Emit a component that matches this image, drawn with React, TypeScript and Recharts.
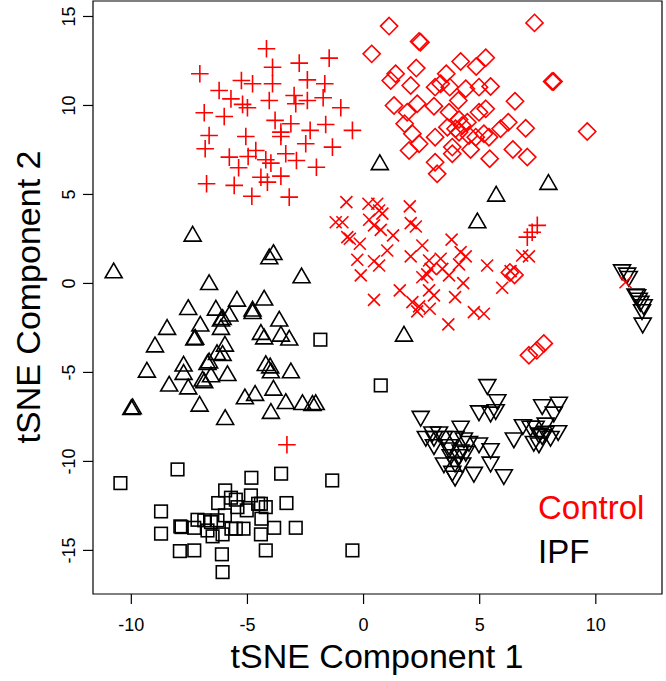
import { ScatterChart, Scatter, XAxis, YAxis, ReferenceArea } from 'recharts';

type Pt = [number, number];

// axis setup
const X_TICKS = [-10, -5, 0, 5, 10];
const Y_TICKS = [-15, -10, -5, 0, 5, 10, 15];
const X_DOMAIN: [number, number] = [-11.65, 12.85];
const Y_DOMAIN: [number, number] = [-17.45, 15.87];

const X_TITLE = 'tSNE Component 1';
const Y_TITLE = 'tSNE Component 2';
const LEGEND_LABELS = ['Control', 'IPF'];
const LEGEND_COLORS = ['#ff0000', '#000000'];

// Control groups (red)
const controlPlus: Pt[] = [
  [-4.18, 13.19], [-2.77, 12.38], [-1.48, 12.66], [-7.05, 11.78], [-5.26, 11.4], [-3.92, 12.15],
  [-2.42, 11.44], [-1.67, 11.22], [-4.78, 11.22], [-3.92, 11.22], [-6.22, 10.84], [-5.71, 10.37],
  [-5.21, 10.06], [-5.0, 9.87], [-4.06, 10.28], [-2.99, 10.56], [-2.92, 10.1], [-2.42, 10.28],
  [-1.74, 10.43], [-0.98, 9.87], [-6.86, 9.59], [-6.0, 9.38], [-3.81, 9.16], [-3.13, 8.97],
  [-3.56, 8.5], [-3.56, 8.26], [-2.3, 8.6], [-1.63, 8.93], [-0.48, 8.6], [-6.65, 8.31],
  [-5.07, 8.26], [-2.49, 7.85], [-1.34, 7.66], [-6.82, 7.57], [-5.78, 7.1], [-4.97, 7.13],
  [-4.64, 7.47], [-3.35, 7.29], [-2.89, 6.91], [-4.21, 6.95], [-3.99, 6.76], [-5.38, 6.5],
  [-2.03, 6.53], [-4.42, 5.97], [-4.14, 5.69], [-3.56, 6.03], [-6.76, 5.6], [-5.57, 5.51],
  [-4.81, 4.9], [-3.2, 4.85], [-3.3, -9.06], [7.05, 2.6], [7.26, 2.88], [7.48, 3.26],
];

const controlDiamond: Pt[] = [
  [1.1, 14.46], [2.39, 13.6], [2.45, 13.55], [7.36, 14.64], [0.35, 12.9], [1.38, 11.78],
  [1.17, 11.4], [2.27, 12.1], [4.18, 12.47], [5.26, 12.68], [4.85, 12.19], [3.56, 11.78],
  [2.03, 11.12], [3.08, 11.03], [3.32, 11.22], [3.71, 11.03], [4.4, 10.94], [4.97, 11.03],
  [5.47, 11.07], [8.12, 11.35], [8.18, 11.35], [1.31, 10.0], [2.31, 10.1], [3.03, 9.96],
  [4.08, 10.28], [6.52, 10.24], [1.88, 9.62], [3.68, 9.62], [4.97, 9.62], [5.26, 9.81],
  [1.77, 8.97], [4.11, 9.21], [4.47, 9.06], [3.61, 8.78], [3.96, 8.69], [4.25, 8.88],
  [6.23, 9.06], [5.9, 8.69], [6.98, 8.72], [9.63, 8.54], [2.1, 8.41], [3.08, 8.22],
  [4.11, 8.5], [4.54, 8.31], [4.83, 8.22], [5.18, 8.41], [5.4, 8.22], [2.39, 7.85],
  [1.96, 7.47], [3.82, 7.66], [4.61, 7.53], [6.43, 7.53], [7.05, 7.1], [5.43, 7.01],
  [3.08, 6.81], [3.82, 7.29], [3.17, 6.16], [6.3, 0.62], [6.5, 0.48], [7.12, -4.04],
  [7.46, -3.76], [7.76, -3.37],
];

const controlCross: Pt[] = [
  [-0.74, 4.57], [0.21, 4.48], [0.59, 4.48], [0.67, 4.1], [0.81, 3.92], [1.99, 4.33],
  [-1.2, 3.44], [-0.91, 3.44], [0.24, 3.58], [0.45, 3.26], [0.74, 3.01], [2.03, 3.39],
  [2.25, 3.2], [-0.7, 2.6], [-0.59, 2.51], [-0.16, 2.23], [1.27, 2.7], [2.53, 2.13],
  [3.79, 2.46], [1.02, 1.85], [-0.27, 1.33], [0.45, 1.25], [0.67, 1.01], [2.03, 1.52],
  [2.82, 1.29], [3.32, 1.39], [4.18, 1.76], [4.4, 1.52], [5.32, 1.01], [-0.12, 0.45],
  [2.89, 0.82], [3.39, 0.82], [3.68, 0.45], [4.11, 1.07], [2.53, 0.35], [2.74, 0.51],
  [6.83, 1.57], [7.12, 1.52], [6.33, 0.69], [5.97, -0.24], [1.56, -0.39], [2.82, -0.39],
  [3.03, -0.67], [4.29, 0.02], [0.45, -0.92], [2.1, -1.05], [3.94, -0.77], [2.31, -1.57],
  [2.85, -1.42], [4.75, -1.61], [5.18, -1.7], [3.65, -2.3], [2.39, -1.29], [11.28, 0.07],
];

// IPF groups (black)
const ipfTriUp: Pt[] = [
  [-7.36, 2.79], [-3.88, 1.76], [-4.06, 1.52], [-10.76, 0.73], [-2.67, 0.45], [-6.65, 0.07],
  [-5.45, -0.86], [-4.28, -0.8], [-7.55, -1.33], [-6.36, -1.37], [-5.78, -1.7], [-4.78, -1.42],
  [-4.78, -1.56], [-6.14, -1.98], [-6.07, -1.89], [-3.63, -1.98], [-8.46, -2.45], [-7.03, -2.26],
  [-6.14, -2.45], [-7.29, -3.05], [-7.25, -3.0], [-4.42, -2.73], [-4.28, -2.98], [-3.56, -2.83],
  [-3.2, -3.05], [-8.98, -3.43], [-5.97, -3.39], [-6.31, -3.86], [-6.07, -3.91], [-6.65, -4.33],
  [-6.72, -4.42], [-9.33, -4.85], [-7.75, -4.51], [-7.75, -4.98], [-5.86, -5.04], [-4.21, -4.48],
  [-4.02, -4.61], [-3.99, -4.89], [-3.13, -4.89], [-6.57, -5.11], [-6.93, -5.35], [-6.86, -5.45],
  [-8.37, -5.63], [-7.55, -5.79], [-5.11, -6.35], [-4.67, -6.16], [-3.88, -5.86], [-9.94, -6.91],
  [-10.0, -6.95], [-7.06, -6.76], [-3.35, -6.61], [-2.63, -6.67], [-2.2, -6.72], [-2.06, -6.67],
  [-3.99, -7.17], [-5.96, -7.51], [0.7, 6.81], [7.96, 5.7], [5.71, 5.04], [4.9, 3.54],
  [1.74, -2.83],
];

const ipfSquare: Pt[] = [
  [-8.01, -10.45], [-10.47, -11.22], [-4.83, -10.92], [-3.55, -10.69], [-1.35, -11.07], [-5.96, -11.63],
  [-6.26, -12.34], [-5.71, -12.04], [-5.5, -12.15], [-4.85, -11.91], [-4.54, -12.38], [-4.42, -12.38],
  [-4.21, -12.57], [-3.32, -12.34], [-5.43, -12.57], [-5.03, -12.75], [-5.97, -13.03], [-8.72, -12.81],
  [-7.15, -13.28], [-6.86, -13.31], [-6.57, -13.41], [-6.29, -13.31], [-7.89, -13.65], [-7.84, -13.69],
  [-7.29, -13.73], [-6.72, -13.88], [-6.5, -14.21], [-6.07, -14.1], [-5.5, -13.78], [-5.17, -13.78],
  [-5.69, -13.78], [-4.42, -14.1], [-4.4, -13.22], [-3.85, -13.73], [-2.92, -13.73], [-8.72, -14.06],
  [-7.91, -15.04], [-7.29, -15.0], [-6.1, -15.22], [-6.07, -16.22], [-4.21, -15.0], [-0.48, -15.0],
  [0.74, -5.73], [-1.86, -3.16],
];

const ipfTriDown: Pt[] = [
  [5.33, -5.82], [5.76, -6.67], [4.97, -7.29], [5.47, -7.36], [5.69, -7.23], [2.46, -7.6],
  [7.69, -6.95], [8.41, -6.81], [8.19, -7.36], [2.68, -8.73], [2.96, -8.48], [3.25, -8.48],
  [3.03, -8.73], [3.46, -8.73], [4.18, -8.16], [3.03, -9.2], [3.68, -9.38], [4.32, -8.82],
  [4.54, -9.01], [4.97, -9.1], [4.4, -9.57], [3.75, -9.76], [4.11, -9.76], [5.47, -9.42],
  [3.46, -10.22], [3.94, -10.17], [4.25, -10.22], [5.47, -10.17], [3.82, -10.69], [3.94, -10.97],
  [4.75, -10.75], [6.04, -10.88], [6.47, -8.82], [6.86, -8.07], [7.41, -8.16], [7.33, -9.01],
  [7.55, -8.54], [7.69, -8.63], [7.84, -8.44], [7.55, -9.1], [7.84, -7.98], [8.38, -8.41],
  [7.19, -8.16], [8.05, -8.73], [3.96, -8.73], [3.68, -9.2], [4.18, -9.49],
  [11.13, 0.63], [11.35, 0.45], [11.42, 0.26], [11.71, -0.73], [11.85, -0.96], [11.92, -1.14],
  [12.06, -1.33], [11.99, -1.61], [12.02, -2.36], [11.78, -0.77],
];

const toRows = (pts: Pt[]) => pts.map(([x, y]) => ({ x, y }));

const RED = '#ff0000';
const BLACK = '#000000';
const LW = 1.6;
const FONT = '"Liberation Sans", Arial, Helvetica, sans-serif';

const Plus = ({ cx, cy }: any) => (
  <path d={`M${cx - 8.8},${cy}H${cx + 8.8}M${cx},${cy - 8.8}V${cy + 8.8}`} stroke={RED} strokeWidth={LW} fill="none" />
);
const Diamond = ({ cx, cy }: any) => (
  <path d={`M${cx},${cy - 8.6}L${cx + 8.6},${cy}L${cx},${cy + 8.6}L${cx - 8.6},${cy}Z`} stroke={RED} strokeWidth={LW} fill="none" />
);
const Cross = ({ cx, cy }: any) => (
  <path d={`M${cx - 6},${cy - 6}L${cx + 6},${cy + 6}M${cx + 6},${cy - 6}L${cx - 6},${cy + 6}`} stroke={RED} strokeWidth={LW} fill="none" />
);
const Square = ({ cx, cy }: any) => (
  <rect x={cx - 6.3} y={cy - 6.3} width={12.6} height={12.6} stroke={BLACK} strokeWidth={LW} fill="none" />
);
const TriUp = ({ cx, cy }: any) => (
  <path d={`M${cx},${cy - 7.35}L${cx + 8.5},${cy + 7.35}L${cx - 8.5},${cy + 7.35}Z`} stroke={BLACK} strokeWidth={LW} fill="none" />
);
const TriDown = ({ cx, cy }: any) => (
  <path d={`M${cx},${cy + 7.35}L${cx + 8.5},${cy - 7.35}L${cx - 8.5},${cy - 7.35}Z`} stroke={BLACK} strokeWidth={LW} fill="none" />
);

const XTick = ({ x, y, payload }: any) => (
  <text x={x} y={y + 25} textAnchor="middle" fontSize={18} fontFamily={FONT} fill="#000">
    {payload.value}
  </text>
);

const YTick = ({ y, payload }: any) => (
  <text x={75} y={y} transform={`rotate(-90, 75, ${y})`} textAnchor="middle" fontSize={18} fontFamily={FONT} fill="#000">
    {payload.value}
  </text>
);

export default function App() {
  return (
    <div style={{ position: 'absolute', left: 0, top: 0, width: 666, height: 681, background: '#fff' }}>
      <ScatterChart width={666} height={681} margin={{ top: 1, right: 4, bottom: 0, left: 0 }}>
        <XAxis
          type="number"
          dataKey="x"
          domain={X_DOMAIN}
          ticks={X_TICKS}
          allowDataOverflow
          axisLine={false}
          tickSize={10}
          tickLine={{ stroke: '#000', strokeWidth: 1.2 }}
          tick={<XTick />}
          height={87}
        />
        <YAxis
          type="number"
          dataKey="y"
          domain={Y_DOMAIN}
          ticks={Y_TICKS}
          allowDataOverflow
          axisLine={false}
          tickSize={10}
          tickLine={{ stroke: '#000', strokeWidth: 1.2 }}
          tick={<YTick />}
          width={93}
        />
        <ReferenceArea
          x1={X_DOMAIN[0]}
          x2={X_DOMAIN[1]}
          y1={Y_DOMAIN[0]}
          y2={Y_DOMAIN[1]}
          fill="none"
          stroke="#000"
          strokeWidth={1.2}
          fillOpacity={0}
        />
        <Scatter data={toRows(ipfSquare)} shape={<Square />} isAnimationActive={false} />
        <Scatter data={toRows(ipfTriUp)} shape={<TriUp />} isAnimationActive={false} />
        <Scatter data={toRows(ipfTriDown)} shape={<TriDown />} isAnimationActive={false} />
        <Scatter data={toRows(controlPlus)} shape={<Plus />} isAnimationActive={false} />
        <Scatter data={toRows(controlDiamond)} shape={<Diamond />} isAnimationActive={false} />
        <Scatter data={toRows(controlCross)} shape={<Cross />} isAnimationActive={false} />
      </ScatterChart>
      <svg width={666} height={681} style={{ position: 'absolute', left: 0, top: 0, pointerEvents: 'none' }}>
        <text x={377} y={668} textAnchor="middle" fontSize={34} fontFamily={FONT} fill="#000">
          {X_TITLE}
        </text>
        <text x={40} y={297} transform="rotate(-90, 40, 297)" textAnchor="middle" fontSize={34} fontFamily={FONT} fill="#000">
          {Y_TITLE}
        </text>
        {LEGEND_LABELS.map((label, i) => (
          <text key={label} x={538} y={519 + i * 44} fontSize={33} fontFamily={FONT} fill={LEGEND_COLORS[i]}>
            {label}
          </text>
        ))}
      </svg>
    </div>
  );
}
